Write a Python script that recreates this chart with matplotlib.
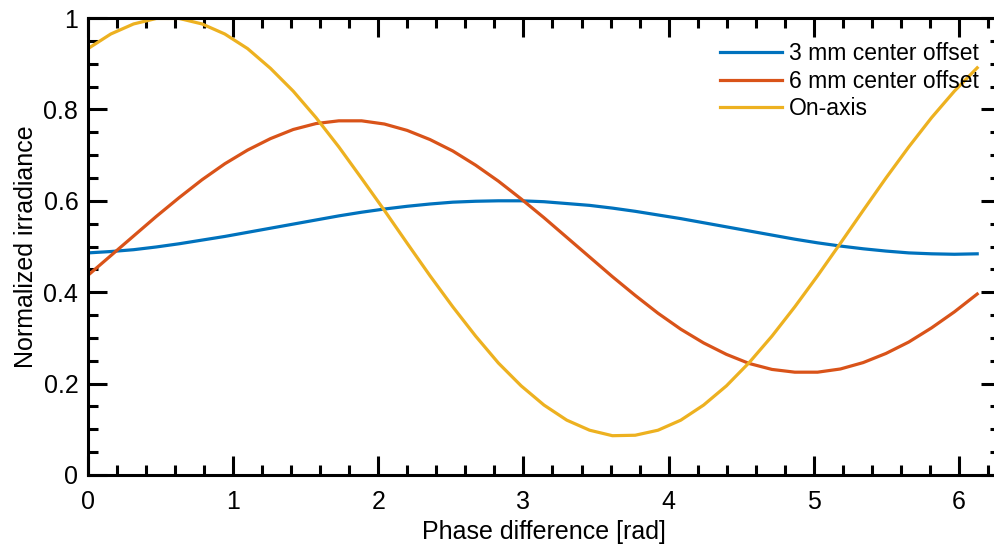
import numpy as np
import matplotlib
matplotlib.use("Agg")
from matplotlib import pyplot as plt
from matplotlib.ticker import MultipleLocator

plt.rcParams['font.family'] = ['Liberation Sans', 'DejaVu Sans']

# phase samples: 40 steps of 2*pi/40 (last point just before 2*pi)
phase = np.arange(40) * 2 * np.pi / 40

offset_3mm = [0.486, 0.489, 0.493, 0.499, 0.506, 0.514, 0.522, 0.531, 0.540, 0.549,
              0.558, 0.567, 0.575, 0.582, 0.588, 0.593, 0.597, 0.599, 0.600, 0.600,
              0.598, 0.594, 0.590, 0.584, 0.577, 0.569, 0.561, 0.552, 0.543, 0.534,
              0.525, 0.516, 0.508, 0.501, 0.495, 0.490, 0.486, 0.484, 0.483, 0.484]

offset_6mm = [0.437, 0.480, 0.523, 0.566, 0.607, 0.646, 0.681, 0.711, 0.736, 0.756,
              0.769, 0.775, 0.775, 0.768, 0.754, 0.734, 0.709, 0.678, 0.643, 0.604,
              0.563, 0.520, 0.477, 0.434, 0.393, 0.354, 0.319, 0.289, 0.264, 0.244,
              0.231, 0.225, 0.225, 0.232, 0.246, 0.266, 0.291, 0.322, 0.357, 0.396]

on_axis = [0.933, 0.965, 0.987, 0.999, 0.999, 0.987, 0.965, 0.933, 0.890, 0.840,
           0.782, 0.718, 0.649, 0.579, 0.507, 0.436, 0.368, 0.304, 0.245, 0.195,
           0.153, 0.120, 0.098, 0.086, 0.087, 0.098, 0.120, 0.153, 0.195, 0.246,
           0.304, 0.368, 0.436, 0.507, 0.579, 0.650, 0.718, 0.782, 0.840, 0.891]

labels = ['3 mm center offset', '6 mm center offset', 'On-axis']
colors = ['#0072BD', '#D95319', '#EDB120']

fig = plt.figure(figsize=(9.95, 5.47), dpi=100)
ax = fig.add_axes([88 / 995, 1 - 475 / 547, (1000 - 88) / 995, (475 - 18) / 547])

for y, lab, c in zip([offset_3mm, offset_6mm, on_axis], labels, colors):
    ax.plot(phase, y, color=c, lw=2.3, label=lab)

ax.set_xlim(0, 2 * np.pi)
ax.set_ylim(0, 1)
ax.set_xticks(range(7))
ax.set_yticks([0, 0.2, 0.4, 0.6, 0.8, 1])
ax.set_yticklabels(['0', '0.2', '0.4', '0.6', '0.8', '1'])
ax.xaxis.set_minor_locator(MultipleLocator(0.2))
ax.yaxis.set_minor_locator(MultipleLocator(0.05))

ax.tick_params(which='both', direction='in', top=True, right=True, width=2.2,
               labelsize=18)
ax.tick_params(which='major', length=14)
ax.tick_params(which='minor', length=7)
ax.tick_params(axis='y', pad=7)
ax.tick_params(axis='x', pad=11)
for s in ax.spines.values():
    s.set_linewidth(2.2)

ax.set_xlabel('Phase difference [rad]', fontsize=18, labelpad=4)
ax.set_ylabel('Normalized irradiance', fontsize=18, labelpad=4)

ax.legend(loc='upper right', bbox_to_anchor=(988 / 995, 1 - 33 / 547),
          bbox_transform=fig.transFigure, frameon=False, fontsize=16.5,
          handlelength=2.7, handletextpad=0.3, labelspacing=0.2, borderaxespad=0)

fig.savefig('out.png', dpi=100)
